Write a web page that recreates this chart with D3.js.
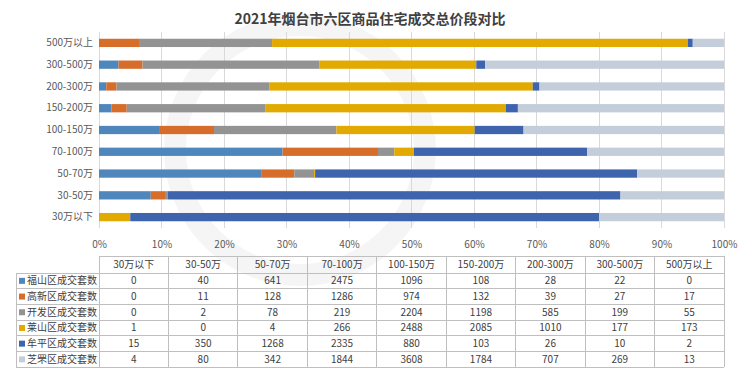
<!DOCTYPE html>
<html><head><meta charset="utf-8">
<script src="https://cdn.jsdelivr.net/npm/d3@7"></script>
<style>body{margin:0;background:#fff}svg{display:block}</style>
</head><body><svg id="c" width="740" height="378"></svg>
<script>
const title = "2021年烟台市六区商品住宅成交总价段对比";
const categories = ["30万以下","30-50万","50-70万","70-100万","100-150万","150-200万","200-300万","300-500万","500万以上"];
const seriesNames = ["福山区成交套数","高新区成交套数","开发区成交套数","莱山区成交套数","牟平区成交套数","芝罘区成交套数"];
const fushan = [0,40,641,2475,1096,108,28,22,0];
const gaoxin = [0,11,128,1286,974,132,39,27,17];
const kaifa = [0,2,78,219,2204,1198,585,199,55];
const laishan = [1,0,4,266,2488,2085,1010,177,173];
const muping = [15,350,1268,2335,880,103,26,10,2];
const zhifu = [4,80,342,1844,3608,1784,707,269,13];
const colors = ["#4f87bd","#d66d2b","#939393","#e2aa00","#3d64ad","#c3ceda"];
const xTicks = [0,0.1,0.2,0.3,0.4,0.5,0.6,0.7,0.8,0.9,1];

const seriesValues = [fushan,gaoxin,kaifa,laishan,muping,zhifu];
const rows = categories.map((c,i)=>{
  const o = {cat:c};
  seriesNames.forEach((s,j)=>o[s]=seriesValues[j][i]);
  return o;
});
const svg = d3.select("#c");
const font = "'Microsoft YaHei','Noto Sans CJK SC',sans-serif";

// faint watermark ring
svg.append("circle").attr("cx",300).attr("cy",150).attr("r",125).attr("fill","none")
  .attr("stroke","#000").attr("stroke-opacity",0.04).attr("stroke-width",22);

svg.append("text").attr("x",370).attr("y",24).attr("text-anchor","middle")
  .attr("font-family",font).attr("font-size",14).attr("font-weight","bold").attr("fill","#404040").text(title);

const x = d3.scaleLinear().domain([0,1]).range([99,724]);
const y = d3.scaleBand().domain(categories.slice().reverse()).range([32,228]).paddingInner(0.62).paddingOuter(0.31);

// grid
svg.append("g").selectAll("line").data(xTicks).join("line")
  .attr("x1",d=>x(d)).attr("x2",d=>x(d)).attr("y1",32).attr("y2",228)
  .attr("stroke","#d9d9d9").attr("stroke-width",1).attr("shape-rendering","crispEdges");

const stacked = d3.stack().keys(seriesNames).offset(d3.stackOffsetExpand)(rows);
svg.append("g").selectAll("g").data(stacked).join("g").attr("fill",(d,i)=>colors[i])
  .selectAll("rect").data(d=>d).join("rect")
  .attr("x",d=>x(d[0])).attr("width",d=>Math.max(0,x(d[1])-x(d[0])))
  .attr("y",d=>y(d.data.cat)).attr("height",y.bandwidth());

// y axis labels
const yAxis = d3.axisLeft(y).tickSize(0).tickPadding(6);
const ya = svg.append("g").attr("transform","translate(99,0)").call(yAxis);
ya.select(".domain").remove();
ya.selectAll("text").attr("font-family",font).attr("font-size",10).attr("fill","#595959");

// x axis labels
const xAxis = d3.axisBottom(x).tickValues(xTicks).tickFormat(d3.format(".0%")).tickSize(0).tickPadding(9);
const xa = svg.append("g").attr("transform","translate(0,232)").call(xAxis);
xa.select(".domain").remove();
xa.selectAll("text").attr("font-family",font).attr("font-size",10).attr("fill","#595959");

// table
const colW = (x(1)-x(0))/categories.length;
const tTop = 256, hdrH = 17, rowH = 15.7, legL = 16;
const tb = svg.append("g").attr("font-family",font).attr("font-size",10).attr("fill","#404040");
const bc = "#bfbfbf";
const tBottom = tTop + hdrH + rowH*seriesNames.length;
tb.append("line").attr("x1",x(0)).attr("x2",x(1)).attr("y1",tTop).attr("y2",tTop).attr("stroke",bc).attr("shape-rendering","crispEdges");
for(let r=0;r<=seriesNames.length;r++){
  const yy = tTop+hdrH+rowH*r;
  tb.append("line").attr("x1",legL).attr("x2",x(1)).attr("y1",yy).attr("y2",yy).attr("stroke",bc).attr("shape-rendering","crispEdges");
}
tb.append("line").attr("x1",legL).attr("x2",legL).attr("y1",tTop+hdrH).attr("y2",tBottom).attr("stroke",bc).attr("shape-rendering","crispEdges");
for(let c=0;c<=categories.length;c++){
  const xx = x(0)+colW*c;
  tb.append("line").attr("x1",xx).attr("x2",xx).attr("y1",tTop).attr("y2",tBottom).attr("stroke",bc).attr("shape-rendering","crispEdges");
}
categories.forEach((c,i)=>{
  tb.append("text").attr("x",x(0)+colW*(i+0.5)).attr("y",tTop+hdrH/2+3.5).attr("text-anchor","middle").text(c);
});
seriesNames.forEach((s,j)=>{
  const cy = tTop+hdrH+rowH*(j+0.5);
  tb.append("rect").attr("x",legL+3).attr("y",cy-3).attr("width",6).attr("height",6).attr("fill",colors[j]);
  tb.append("text").attr("x",legL+11).attr("y",cy+3.5).text(s);
  seriesValues[j].forEach((v,i)=>{
    tb.append("text").attr("x",x(0)+colW*(i+0.5)).attr("y",cy+3.5).attr("text-anchor","middle").text(v);
  });
});
</script></body></html>
